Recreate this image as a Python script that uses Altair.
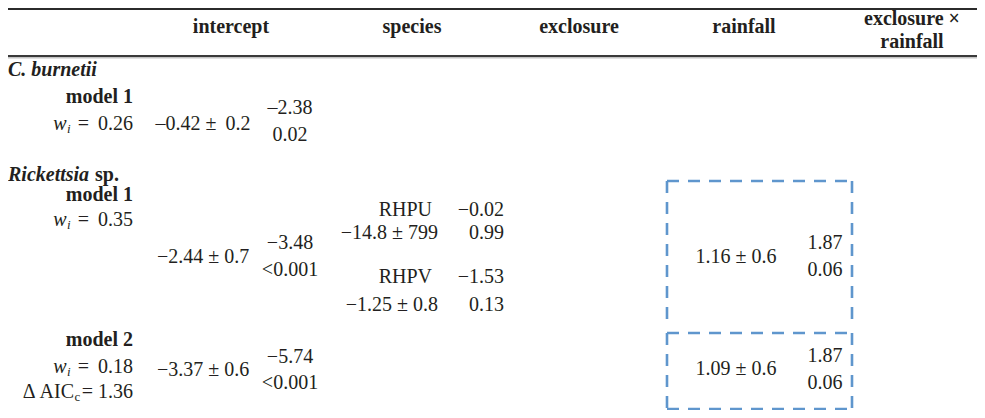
import altair as alt
import pandas as pd

# ---------------- table values ----------------
HEADERS = ["intercept", "species", "exclosure", "rainfall"]
INTER_HEADER = ["exclosure \u00d7", "rainfall"]
GROUPS = ["C. burnetii", "Rickettsia"]
GROUP_SUFFIX = ["sp."]
MODEL_LABELS = ["model 1", "model 1", "model 2"]
WEIGHTS = ["= \u20090.26", "= \u20090.35", "= \u20090.18"]
DELTA_AIC = ["= 1.36"]
INTERCEPT_EST = ["\u20130.42 \u00b1 \u20090.2", "\u22122.44 \u00b1 0.7", "\u22123.37 \u00b1 0.6"]
INTERCEPT_Z = ["\u20132.38", "\u22123.48", "\u22125.74"]
INTERCEPT_P = ["0.02", "<0.001", "<0.001"]
SPECIES_LEVELS = ["RHPU", "RHPV"]
SPECIES_EST = ["\u221214.8 \u00b1 799", "\u22121.25 \u00b1 0.8"]
SPECIES_Z = ["\u22120.02", "\u22121.53"]
SPECIES_P = ["0.99", "0.13"]
RAINFALL_EST = ["1.16 \u00b1 0.6", "1.09 \u00b1 0.6"]
RAINFALL_Z = ["1.87", "1.87"]
RAINFALL_P = ["0.06", "0.06"]

# ---------------- layout (reference pixel grid) ----------------
X_DOMAIN = [8, 977]
Y_DOMAIN = [8, 410]
FONT = "Liberation Serif"
INK = "#231f20"
BLUE = "#5f96cd"
FS = 20
SUB_FS = 13

HEADER_X = [231, 412, 579, 744]
HEADER_Y = 27
INTER_X = 912
INTER_Y = [19, 42]
GROUP_X = 8
GROUP_Y = [70, 175]
SUFFIX_X = 95
LABEL_RIGHT = 133
MODEL_Y = [97, 195, 340]
WEIGHT_Y = [124, 220, 367]
W_RIGHT = 66.5
AIC_Y = [392]
AIC_RIGHT = 74
SUB_DY = 5
INT_EST_X, INT_ZP_X = 203, 290
INT_EST_Y = [124, 257, 370]
INT_Z_Y = [108, 243, 357]
INT_P_Y = [135, 270, 383]
SPC_LABEL_RIGHT, SPC_EST_RIGHT, SPC_ZP_RIGHT = 432, 438, 504
SPC_LABEL_Y = [210, 277]
SPC_EST_Y = [233, 305]
RAIN_EST_X, RAIN_ZP_X = 736, 825
RAIN_EST_Y = [257, 369]
RAIN_Z_Y = [243, 356]
RAIN_P_Y = [270, 383]
BOX_LEFT, BOX_RIGHT = 667, 852
BOX_TOP, BOX_MID, BOX_BOTTOM = 181, 333, 409

xs = alt.Scale(domain=X_DOMAIN, zero=False, nice=False)
ys = alt.Scale(domain=Y_DOMAIN, zero=False, nice=False, reverse=True)


def frame(texts, xpos, ypos):
    n = len(texts)
    if not isinstance(xpos, list):
        xpos = [xpos] * n
    if not isinstance(ypos, list):
        ypos = [ypos] * n
    return pd.DataFrame({"t": texts, "x": xpos, "y": ypos})


def layer(df, align="center", size=FS, weight="normal", style="normal"):
    return alt.Chart(df).mark_text(
        align=align, baseline="middle", font=FONT, fontSize=size,
        fontWeight=weight, fontStyle=style, color=INK,
    ).encode(
        x=alt.X("x:Q", scale=xs, axis=None),
        y=alt.Y("y:Q", scale=ys, axis=None),
        text="t:N",
    )


layers = []
# headers
layers.append(layer(frame(HEADERS, HEADER_X, HEADER_Y), weight="bold"))
layers.append(layer(frame(INTER_HEADER, INTER_X, INTER_Y), weight="bold"))
# group titles
layers.append(layer(frame(GROUPS, GROUP_X, GROUP_Y), align="left", weight="bold", style="italic"))
layers.append(layer(frame(GROUP_SUFFIX, SUFFIX_X, GROUP_Y[1]), align="left", weight="bold"))
# model labels
layers.append(layer(frame(MODEL_LABELS, LABEL_RIGHT, MODEL_Y), align="right", weight="bold"))
layers.append(layer(frame(WEIGHTS, LABEL_RIGHT, WEIGHT_Y), align="right"))
layers.append(layer(frame(["w"] * 3, W_RIGHT, WEIGHT_Y), align="right", style="italic"))
layers.append(layer(frame(["i"] * 3, W_RIGHT + 0.5, [v + SUB_DY for v in WEIGHT_Y]),
                    align="left", size=SUB_FS, style="italic"))
layers.append(layer(frame(DELTA_AIC, LABEL_RIGHT, AIC_Y), align="right"))
layers.append(layer(frame(["\u0394 AIC"], AIC_RIGHT, AIC_Y), align="right"))
layers.append(layer(frame(["c"], AIC_RIGHT + 0.5, [v + SUB_DY for v in AIC_Y]),
                    align="left", size=SUB_FS))
# intercept
layers.append(layer(frame(INTERCEPT_EST, INT_EST_X, INT_EST_Y)))
layers.append(layer(frame(INTERCEPT_Z, INT_ZP_X, INT_Z_Y)))
layers.append(layer(frame(INTERCEPT_P, INT_ZP_X, INT_P_Y)))
# species
layers.append(layer(frame(SPECIES_LEVELS, SPC_LABEL_RIGHT, SPC_LABEL_Y), align="right"))
layers.append(layer(frame(SPECIES_EST, SPC_EST_RIGHT, SPC_EST_Y), align="right"))
layers.append(layer(frame(SPECIES_Z, SPC_ZP_RIGHT, SPC_LABEL_Y), align="right"))
layers.append(layer(frame(SPECIES_P, SPC_ZP_RIGHT, SPC_EST_Y), align="right"))
# rainfall
layers.append(layer(frame(RAINFALL_EST, RAIN_EST_X, RAIN_EST_Y)))
layers.append(layer(frame(RAINFALL_Z, RAIN_ZP_X, RAIN_Z_Y)))
layers.append(layer(frame(RAINFALL_P, RAIN_ZP_X, RAIN_P_Y)))

# horizontal table rules
rules_df = pd.DataFrame({"x": [8, 8, 8], "x2": [977, 977, 977], "y": [9, 56, 57.8],
                         "k": ["top", "mid", "shade"]})
rule_colors = alt.Scale(domain=["top", "mid", "shade"], range=["#2b2b2b", "#3a3a3a", "#c4c4c4"])
rule_widths = alt.Scale(domain=["top", "mid", "shade"], range=[2.2, 1.6, 1.2])
rules = alt.Chart(rules_df).mark_rule().encode(
    x=alt.X("x:Q", scale=xs, axis=None),
    x2="x2:Q",
    y=alt.Y("y:Q", scale=ys, axis=None),
    color=alt.Color("k:N", scale=rule_colors, legend=None),
    strokeWidth=alt.StrokeWidth("k:N", scale=rule_widths, legend=None),
)

# dashed frames around the rainfall estimates (drawn as separate segments)
seg_df = pd.DataFrame({
    "x":  [BOX_LEFT, BOX_LEFT, BOX_LEFT, BOX_LEFT, BOX_RIGHT, BOX_LEFT, BOX_RIGHT],
    "x2": [BOX_RIGHT, BOX_RIGHT, BOX_RIGHT, BOX_LEFT, BOX_RIGHT, BOX_LEFT, BOX_RIGHT],
    "y":  [BOX_TOP, BOX_MID, BOX_BOTTOM, BOX_TOP, BOX_TOP, BOX_MID, BOX_MID],
    "y2": [BOX_TOP, BOX_MID, BOX_BOTTOM, BOX_MID - 6, BOX_MID - 6, BOX_BOTTOM, BOX_BOTTOM],
})
boxes = alt.Chart(seg_df).mark_rule(
    color=BLUE, strokeWidth=2.6, strokeDash=[12, 9]
).encode(
    x=alt.X("x:Q", scale=xs, axis=None), x2="x2:Q",
    y=alt.Y("y:Q", scale=ys, axis=None), y2="y2:Q",
)

chart = alt.layer(rules, boxes, *layers).properties(
    width=969, height=402,
    autosize=alt.AutoSizeParams(type="none"),
    padding=0,
).configure_view(stroke=None).resolve_scale(color="independent", strokeWidth="independent")

chart.save("out.html", embed_options={"renderer": "svg", "actions": False})
